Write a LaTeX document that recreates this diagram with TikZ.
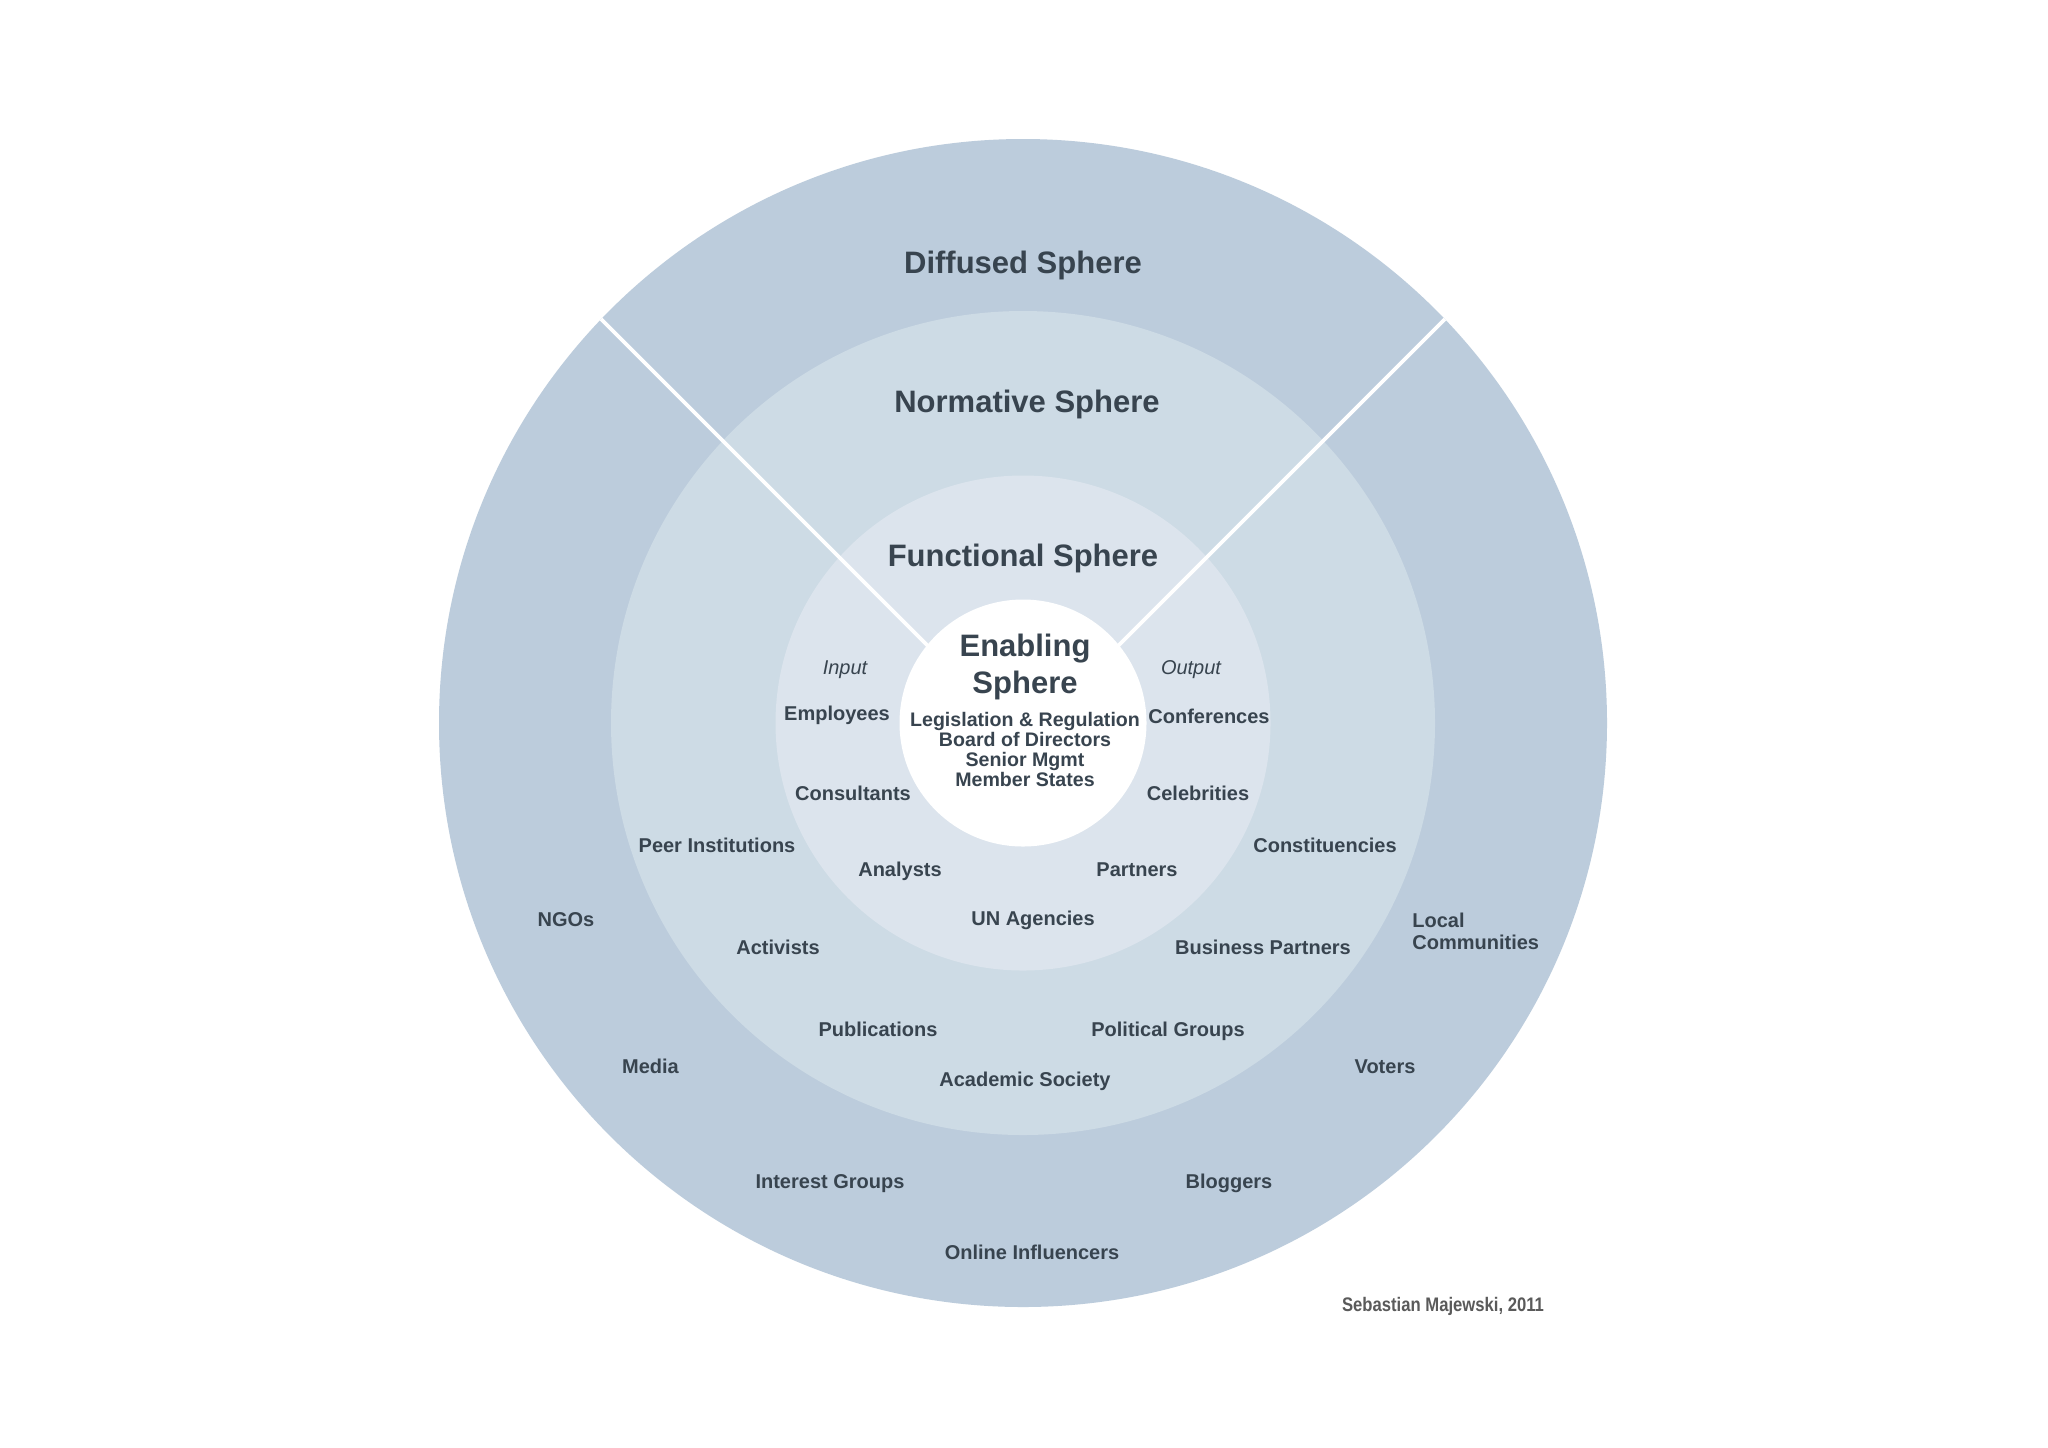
\documentclass[tikz,border=0pt]{standalone}
\usepackage{fontspec}
\setmainfont{Liberation Sans}
\newfontfamily\narrowfont[FakeStretch=0.85]{Liberation Sans}
\definecolor{outerc}{HTML}{BCCCDC}
\definecolor{normc}{HTML}{CDDBE5}
\definecolor{funcc}{HTML}{DCE4ED}
\definecolor{txtc}{HTML}{38444F}
\definecolor{sigc}{HTML}{5A5A5A}
\tikzset{
  lbl/.style={anchor=base, inner sep=0pt, text=txtc, font=\fontsize{10}{10}\selectfont\bfseries},
  ital/.style={anchor=base, inner sep=0pt, text=txtc, font=\fontsize{10}{10}\selectfont\itshape},
  head/.style={anchor=base, inner sep=0pt, text=txtc, font=\fontsize{15.5}{18.5}\selectfont\bfseries},
  divider/.style={white, line width=1.8pt},
}
\begin{document}
\begin{tikzpicture}[x=0.5pt, y=-0.5pt]
\useasboundingbox[fill=white] (0,0) rectangle (2048,1447);
\coordinate (C) at (1023,723);
\coordinate (P) at (1023,741);
\coordinate (L) at (323,41);
\coordinate (R) at (1723,41);
\fill[outerc] (C) circle[radius=292pt];
\fill[normc] (C) circle[radius=206pt];
\fill[funcc] (C) circle[radius=123.75pt];
\begin{scope}
  \clip (C) circle[radius=292pt];
  \draw[divider] (P) -- (L);
  \draw[divider] (P) -- (R);
\end{scope}
\fill[white] (C) circle[radius=61.75pt];

\node[head] (diff) at (1023,273.5) {Diffused Sphere};
\node[head] (norm) at (1027,412) {Normative Sphere};
\node[head] (func) at (1023,566) {Functional Sphere};
\node[head, anchor=north, align=center] (enab) at (1025,634) {Enabling\\Sphere};
\node[anchor=north, align=center, inner sep=0pt, text=txtc, font=\fontsize{9.8}{10}\selectfont\bfseries] (enlist) at (1025,711.5)
  {Legislation \& Regulation\\Board of Directors\\Senior Mgmt\\Member States};

\node[ital] (input) at (845,674) {Input};
\node[ital] (output) at (1191,674) {Output};
\node[lbl] (employees) at (837,720) {Employees};
\node[lbl] (conferences) at (1209,723) {Conferences};
\node[lbl] (consultants) at (853,800) {Consultants};
\node[lbl] (celebrities) at (1198,800) {Celebrities};
\node[lbl] (peer) at (717,852) {Peer Institutions};
\node[lbl] (constit) at (1325,852) {Constituencies};
\node[lbl] (analysts) at (900,876) {Analysts};
\node[lbl] (partners) at (1137,876) {Partners};
\node[lbl] (un) at (1033,925) {UN Agencies};
\node[lbl] (ngos) at (566,926.5) {NGOs};
\node[lbl, anchor=north west, align=left, font=\fontsize{10}{11.2}\selectfont\bfseries] (local) at (1412,912.5) {Local\\Communities};
\node[lbl] (activists) at (778,954) {Activists};
\node[lbl] (business) at (1263,954) {Business Partners};
\node[lbl] (publications) at (878,1036.5) {Publications};
\node[lbl] (political) at (1168,1036.5) {Political Groups};
\node[lbl] (media) at (650.5,1073) {Media};
\node[lbl] (voters) at (1385,1073) {Voters};
\node[lbl] (academic) at (1025,1086) {Academic Society};
\node[lbl] (interest) at (830,1188) {Interest Groups};
\node[lbl] (bloggers) at (1229,1188) {Bloggers};
\node[lbl] (online) at (1032,1259.5) {Online Influencers};
\node[anchor=base, inner sep=0pt, text=sigc, font=\fontsize{9.8}{10}\selectfont\narrowfont\bfseries] (sig) at (1443,1311) {Sebastian Majewski, 2011};
\end{tikzpicture}
\end{document}
